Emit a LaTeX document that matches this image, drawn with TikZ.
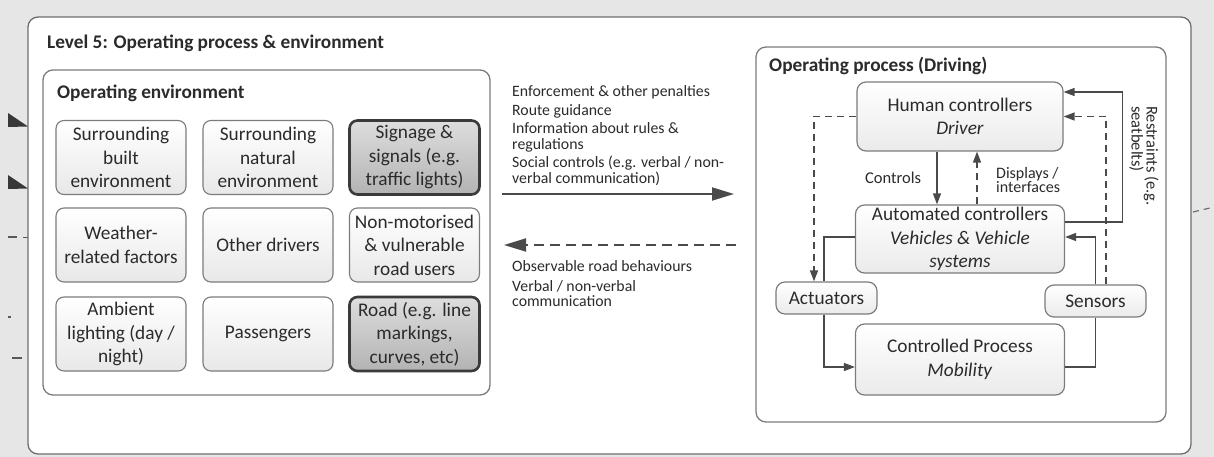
\documentclass[tikz,border=0pt]{standalone}
\usepackage{fontspec}
\setmainfont{Carlito}
\usetikzlibrary{arrows.meta}

\definecolor{ink}{HTML}{2B2B2B}
\definecolor{pagegray}{HTML}{E6E6E6}
\definecolor{frameline}{HTML}{6E6E6E}
\definecolor{boxline}{HTML}{7C7C7C}
\definecolor{keyline}{HTML}{3A3A3A}
\definecolor{wire}{HTML}{4A4A4A}

\newcommand\bxfont{\fontsize{19.3}{23.5}\selectfont}
\newcommand\hdfont{\bfseries\fontsize{19.3}{23.5}\selectfont}
\newcommand\lblfont{\fontsize{15.8}{15.5}\selectfont}

\begin{document}
\begin{tikzpicture}[x=1pt,y=-1pt,
  every node/.style={text=ink},
  framebox/.style={draw=frameline, line width=1.3pt, rounded corners=10pt, fill=white, inner sep=0pt},
  envbox/.style={draw=boxline, line width=1.1pt, rounded corners=8pt, top color=white, bottom color=black!9,
    minimum width=130pt, minimum height=74pt, inner sep=0pt, align=center, font=\bxfont},
  keybox/.style={envbox, draw=keyline, line width=2.6pt, top color=black!13, bottom color=black!30},
  procbox/.style={draw=boxline, line width=1.2pt, rounded corners=9pt, top color=white, bottom color=black!8,
    inner sep=0pt, align=center, font=\bxfont},
  heading/.style={anchor=west, inner sep=0pt, font=\hdfont},
  label/.style={inner sep=0pt, align=left, font=\lblfont},
  conn/.style={draw=wire, line width=1.3pt},
  dconn/.style={conn, dash pattern=on 7pt off 5pt},
  stub/.style={draw=black!65, line width=1.2pt},
  tip/.tip={Triangle[length=11pt,width=8pt]},
  bigtip/.tip={Triangle[length=22pt,width=13pt]},
  bigarrow/.style={draw=wire, line width=1.8pt, -{bigtip}}
]
\useasboundingbox (0,0) rectangle (1214,457);
\fill[pagegray] (0,0) rectangle (1214,457);

% ends of connectors coming from neighbouring levels
\fill[black!78] (8,113) -- (28,126.5) -- (8,127) -- cycle;
\fill[black!78] (8,175) -- (28,188.5) -- (8,189) -- cycle;
\draw[stub] (8,237) -- (17,237);
\draw[stub] (23,237.5) -- (28,237.5);
\draw[stub] (8,317) -- (11,317);
\draw[stub] (12,358) -- (22,358);
\draw[frameline, line width=1.2pt, dash pattern=on 6pt off 5pt] (1193,212) -- (1214,207);

% level frame
\node[framebox, minimum width=1163pt, minimum height=437pt] (level) at (609.5,235.5) {};
\node[heading] (leveltitle) at (47,43) {Level 5: Operating process \& environment};

% operating environment
\node[framebox, draw=boxline, rounded corners=10pt, minimum width=447pt, minimum height=325pt] (env) at (266.5,232.5) {};
\node[heading] (envtitle) at (57,93) {Operating environment};

\node[envbox] (built)   at (121,157.5) {Surrounding\\built\\environment};
\node[envbox] (natural) at (268,157.5) {Surrounding\\natural\\environment};
\node[keybox] (signage) at (414.5,157.5) {Signage \&\\signals (e.g.\\traffic lights)};
\node[envbox] (weather) at (121,245) {Weather-\\related factors};
\node[envbox] (drivers) at (268,245) {Other drivers};
\node[envbox] (vru)     at (414.5,245) {Non-motorised\\\& vulnerable\\road users};
\node[envbox] (light)   at (121,334) {Ambient\\lighting (day /\\night)};
\node[envbox] (pass)    at (268,334) {Passengers};
\node[keybox] (road)    at (414.5,334) {Road (e.g. line\\markings,\\curves, etc)};

% exchanges between environment and process
\coordinate (fwdstart) at (502,194);
\coordinate (fwdend)   at (734,194);
\coordinate (bckstart) at (736,245);
\coordinate (bckend)   at (504,245);
\draw[bigarrow] (fwdstart) -- (fwdend);
\draw[bigarrow, dash pattern=on 10pt off 6pt] (bckstart) -- (bckend);

\node[label, anchor=west] (fwdtext) at (512,135.5)
  {Enforcement \& other penalties\\[3pt]Route guidance\\[3pt]Information about rules \&\\regulations\\[3pt]Social controls (e.g. verbal / non-\\verbal communication)};
\node[label, anchor=west] (bcktext) at (512,284)
  {Observable road behaviours\\[4pt]Verbal / non-verbal\\communication};

% operating process
\node[framebox, draw=boxline, minimum width=410pt, minimum height=375pt] (proc) at (961,234.5) {};
\node[heading] (proctitle) at (769,66) {Operating process (Driving)};

\node[procbox, minimum width=206pt, minimum height=69pt] (human) at (960,116.5)
  {Human controllers\\\textit{Driver}};
\node[procbox, minimum width=209pt, minimum height=68pt] (auto) at (960,239)
  {Automated controllers\\\textit{Vehicles \& Vehicle}\\\textit{systems}};
\node[procbox, minimum width=209pt, minimum height=71pt] (ctrl) at (960,359.5)
  {Controlled Process\\\textit{Mobility}};
\node[procbox, minimum width=101pt, minimum height=32pt] (act) at (826.5,298) {Actuators};
\node[procbox, minimum width=101pt, minimum height=32pt] (sens) at (1095.5,301) {Sensors};

% control loop
\draw[conn,-{tip}] ([xshift=-23pt]human.south) -- ([xshift=-23pt]auto.north);
\draw[dconn,-{tip}] ([xshift=17pt]auto.north) -- ([xshift=17pt]human.south);
\draw[conn] ([yshift=2pt]auto.west) -| ([xshift=-2.5pt]act.north);
\draw[conn,-{tip}] ([xshift=-2.5pt]act.south) |- ([yshift=-7.5pt]ctrl.west);
\draw[conn] ([yshift=-7.5pt]ctrl.east) -| (sens.south);
\draw[conn,-{tip}] (sens.north) |- ([yshift=2pt]auto.east);
\draw[dconn,-{tip}] (human.west) -| ([xshift=-12.5pt]act.north);
\draw[dconn,-{tip}] ([xshift=10.5pt]sens.north) |- (human.east);
\draw[conn,-{tip}] ([yshift=17pt]auto.east) -- ++(57.5pt,0) |- ([yshift=24.5pt]human.east);

\node[label, font=\fontsize{16.5}{15}\selectfont] (ctrllbl) at (893,178) {Controls};
\node[label, anchor=west, font=\fontsize{16}{14}\selectfont] (displbl) at (996,180) {Displays /\\interfaces};
\node[label, rotate=-90, font=\fontsize{16.5}{15}\selectfont] (restlbl) at (1144,156) {Restraints (e.g.\\seatbelts)};
\end{tikzpicture}
\end{document}
